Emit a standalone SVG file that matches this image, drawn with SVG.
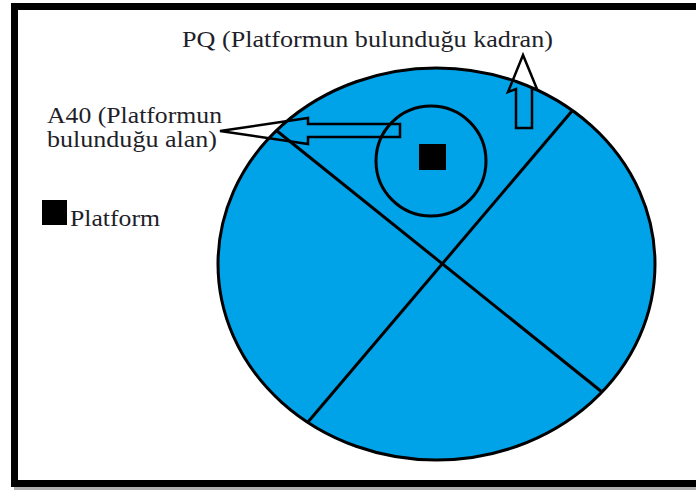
<svg xmlns="http://www.w3.org/2000/svg" width="696" height="490" viewBox="0 0 696 490">
<style>
.lbl{font-family:"Liberation Serif","Times New Roman",serif;font-size:24px;fill:#1f1f2a}
.ln{stroke:#000;stroke-width:3;fill:none}
.arw{stroke:#000;stroke-width:2.5;fill:none;stroke-linejoin:miter}
</style>
<rect x="0" y="0" width="696" height="490" fill="#fff"/>
<rect x="14" y="486" width="682" height="4" fill="#b0b0b0"/>
<rect id="frame" x="14.5" y="6.5" width="700" height="477" fill="#fff" stroke="#000" stroke-width="7"/>
<g id="field">
<ellipse cx="436.5" cy="264" rx="218.5" ry="196" fill="#00A2E8" stroke="#000" stroke-width="3"/>
<line class="ln" x1="277" y1="131" x2="602" y2="392"/>
<line class="ln" x1="572" y1="111" x2="308" y2="422"/>
</g>
<g id="platform-area">
<circle cx="431" cy="161" r="55" fill="none" stroke="#000" stroke-width="3"/>
<rect x="419" y="144" width="27" height="26" fill="#000"/>
</g>
<g id="legend">
<rect x="42" y="200" width="25" height="25" fill="#000"/>
<text class="lbl" x="70" y="226" textLength="90" lengthAdjust="spacingAndGlyphs">Platform</text>
</g>
<g id="label-pq">
<text class="lbl" x="182" y="47" textLength="371" lengthAdjust="spacingAndGlyphs">PQ (Platformun bulunduğu kadran)</text>
</g>
<g id="label-a40">
<text class="lbl" x="47" y="123" textLength="175" lengthAdjust="spacingAndGlyphs">A40 (Platformun</text>
<text class="lbl" x="47" y="147" textLength="170" lengthAdjust="spacingAndGlyphs">bulunduğu alan)</text>
</g>
<g id="connectors">
<polygon class="arw" points="220,131 308,118 308,124 400,124 400,137 308,137 308,144"/>
<polygon class="arw" points="523,55 537,89 532,89 532,128 516,128 516,89 508,92"/>
</g>
</svg>
